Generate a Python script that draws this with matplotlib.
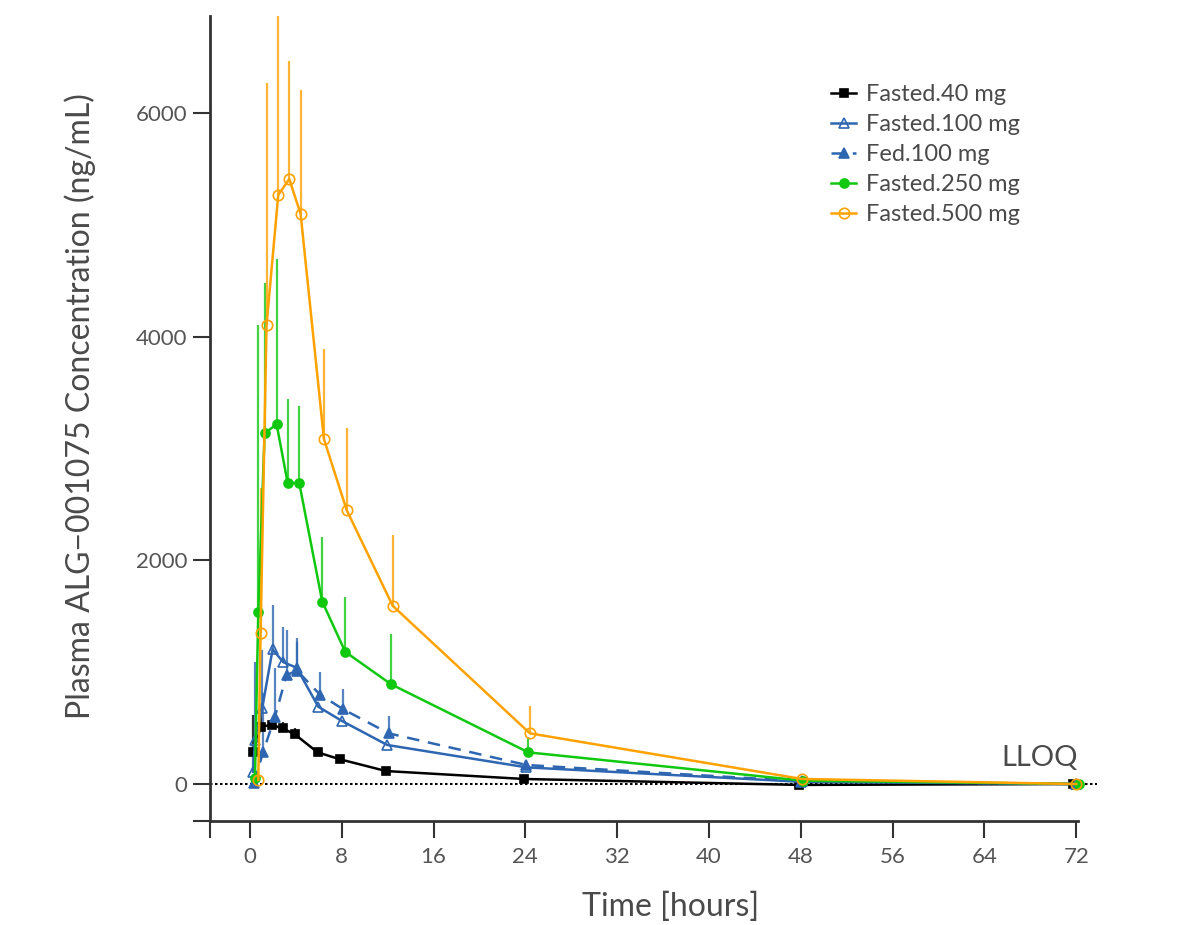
import numpy as np
import matplotlib
matplotlib.use('Agg')
from matplotlib import pyplot as plt

plt.rcParams['font.family'] = ['Lato', 'DejaVu Sans']

# mean sampling times (h), mean conc (ng/mL), upper SD
t_f40 = [0.29, 0.96, 1.89, 2.85, 3.92, 5.9, 7.85, 11.86, 23.9, 47.86, 71.75]
c_f40 = [283, 513, 528, 498, 444, 283, 221, 116, 45, -8, 0]
e_f40 = [334, 164, 45, 60, 60, 0, 40, 0, 0, 0, 0]

t_f100 = [0.29, 0.44, 1.07, 1.98, 2.9, 4.07, 5.96, 8.0, 11.97, 24.1, 48.0, 72.0]
c_f100 = [110, 393, 677, 1205, 1090, 1040, 691, 565, 349, 149, 20, 0]
e_f100 = [250, 700, 521, 400, 313, 262, 0, 0, 0, 0, 0, 0]

t_fed100 = [0.35, 1.16, 2.18, 3.2, 4.12, 6.1, 8.13, 12.1, 24.1, 48.1, 72.0]
c_fed100 = [10, 289, 602, 975, 1013, 800, 668, 453, 170, 25, 0]
e_fed100 = [0, 527, 435, 400, 257, 204, 179, 155, 45, 0, 0]

t_f250 = [0.44, 0.73, 1.28, 2.33, 3.29, 4.3, 6.3, 8.31, 12.3, 24.26, 48.2, 72.2]
c_f250 = [50, 1535, 3136, 3217, 2692, 2692, 1632, 1182, 892, 283, 30, 0]
e_f250 = [0, 2570, 1344, 1478, 751, 688, 578, 488, 448, 140, 0, 0]

t_f500 = [0.73, 0.93, 1.45, 2.47, 3.43, 4.42, 6.45, 8.43, 12.44, 24.4, 48.1, 72.0]
c_f500 = [36, 1353, 4104, 5267, 5410, 5097, 3085, 2450, 1594, 453, 45, 0]
e_f500 = [0, 1294, 2164, 1700, 1055, 1109, 805, 733, 633, 247, 0, 0]

x_ticks = [0, 8, 16, 24, 32, 40, 48, 56, 64, 72]
y_ticks = [0, 2000, 4000, 6000]

blue = '#2e66b1'
series = [
    ('Fasted.40 mg', t_f40, c_f40, e_f40, dict(color='black', marker='s', ms=6, mfc='black', ls='-')),
    ('Fasted.100 mg', t_f100, c_f100, e_f100, dict(color=blue, marker='^', ms=7.5, mfc='none', ls='-')),
    ('Fed.100 mg', t_fed100, c_fed100, e_fed100, dict(color=blue, marker='^', ms=7.5, mfc=blue, ls=(0, (5, 3.5)))),
    ('Fasted.250 mg', t_f250, c_f250, e_f250, dict(color='#11c811', marker='o', ms=6.5, mfc='#11c811', ls='-')),
    ('Fasted.500 mg', t_f500, c_f500, e_f500, dict(color='#ffa200', marker='o', ms=7.5, mfc='none', ls='-')),
]

text_col = '#4a4a4a'

fig = plt.figure(figsize=(11.91, 9.25), dpi=100)
ax = fig.add_axes([0.176, 0.1124, 0.745, 0.8703])

x_left, x_end = -3.51, 72.15
y_bot, y_top = -331, 6868
ax.set_xlim(x_left, 73.8)
ax.set_ylim(y_bot, y_top)

# LLOQ reference line
ax.axhline(0, color='black', ls=(0, (1.2, 1.2)), lw=1.5, zorder=1)

for name, t, c, e, st in series:
    t = np.array(t)
    c = np.array(c)
    e = np.array(e)
    ax.vlines(t, c, c + e, color=st['color'], lw=1.6, alpha=0.8, zorder=2)
    ax.plot(t, c, color=st['color'], ls=st['ls'], lw=1.8, marker=st['marker'],
            ms=st['ms'], mfc=st['mfc'], mec=st['color'], mew=1.2,
            label=name, zorder=3)

ax.text(72.1, 120, 'LLOQ', ha='right', va='bottom', fontsize=21, color=text_col)

for s in ['top', 'right']:
    ax.spines[s].set_visible(False)
ax.spines['bottom'].set_bounds(x_left, x_end)
for s in ['left', 'bottom']:
    ax.spines[s].set_linewidth(2)
    ax.spines[s].set_color('#333333')

ax.set_xticks([x_left] + x_ticks)
ax.set_xticklabels([''] + [str(v) for v in x_ticks])
ax.set_yticks([y_bot] + y_ticks)
ax.set_yticklabels([''] + [str(v) for v in y_ticks])
ax.tick_params(axis='both', direction='out', length=12, width=1.5,
               color='#333333', labelcolor='#555555', labelsize=16)
ax.tick_params(axis='x', pad=7)
ax.tick_params(axis='y', pad=4)

ax.set_xlabel('Time [hours]', fontsize=23, color=text_col)
ax.xaxis.set_label_coords(0.519, -0.088)
ax.set_ylabel('Plasma ALG\u2212001075 Concentration (ng/mL)', fontsize=23,
              color=text_col)
ax.yaxis.set_label_coords(-0.128, 0.515)

leg = ax.legend(loc='upper left', bbox_to_anchor=(0.69, 0.927), frameon=False,
                fontsize=17, handlelength=1.05, handletextpad=0.4,
                labelspacing=0.38, borderaxespad=0)
for txt in leg.get_texts():
    txt.set_color(text_col)

fig.savefig('out.png', dpi=100)
